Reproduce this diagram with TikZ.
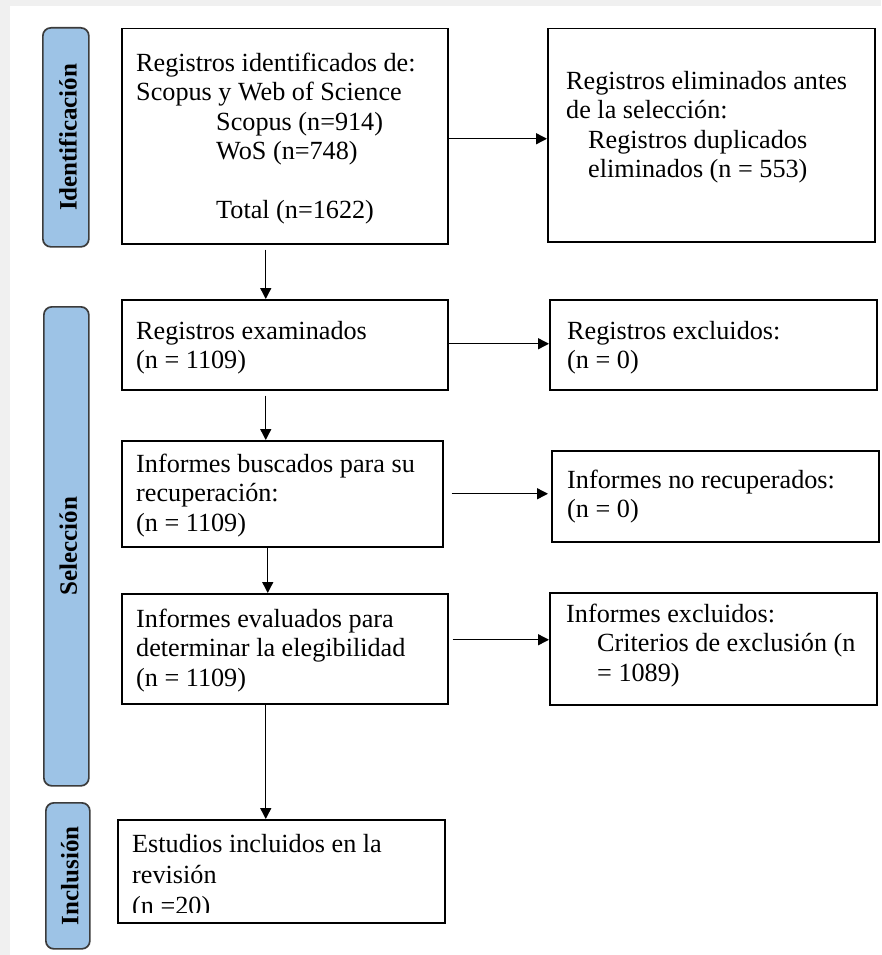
\documentclass[tikz,border=0pt]{standalone}
\usepackage{fontspec}
\setmainfont{Liberation Serif}
\usetikzlibrary{arrows.meta}
\definecolor{pillblue}{HTML}{9DC3E6}
\definecolor{pillline}{HTML}{3B3B3B}
\definecolor{bggray}{HTML}{F0F0F0}
\newcommand\fs{\rule{0pt}{20pt}}
\begin{document}
\begin{tikzpicture}[x=1pt,y=-1pt,
  box/.style={draw=black, line width=1.5pt, fill=white, inner sep=0pt, anchor=north west},
  txt/.style={inner sep=0pt, anchor=north west, align=left, font=\fontsize{26.2}{29.5}\selectfont},
  pill/.style={draw=pillline, line width=1.7pt, fill=pillblue, rounded corners=8pt, inner sep=0pt, anchor=north west},
  side/.style={rotate=90, font=\fontsize{25}{30}\selectfont\bfseries, inner sep=0pt},
  arr/.style={-{Triangle[length=11pt,width=11pt]}, line width=1.4pt}]
\useasboundingbox (0,0) rectangle (881,955);
\fill[bggray] (0,0) rectangle (881,955);
\fill[white] (10,6) rectangle (881,955);

% side pills
\node[pill, minimum width=46pt, minimum height=219pt] (p1) at (42,27) {};
\node[pill, minimum width=45pt, minimum height=479pt] (p2) at (43,306) {};
\node[pill, minimum width=44pt, minimum height=146pt] (p3) at (45,802) {};
\node[side] (l1) at ([xshift=2pt]p1.center) {Identificación};
\node[side] (l2) at ([xshift=2pt]p2.center) {Selección};
\node[side] (l3) at ([xshift=2pt]p3.center) {Inclusión};

% boxes
\node[box, minimum width=326pt, minimum height=215pt] (b1) at (121,28) {};
\node[box, minimum width=327pt, minimum height=213pt] (r1) at (547,28) {};
\node[box, minimum width=326pt, minimum height=90pt] (b2) at (121,299) {};
\node[box, minimum width=327pt, minimum height=90pt] (r2) at (549,299) {};
\node[box, minimum width=321pt, minimum height=106pt] (b3) at (121,440) {};
\node[box, minimum width=327pt, minimum height=91pt] (r3) at (551,450) {};
\node[box, minimum width=326pt, minimum height=110pt] (b4) at (121,593) {};
\node[box, minimum width=327pt, minimum height=112pt] (r4) at (549,592) {};
\node[box, minimum width=327pt, minimum height=103pt] (b5) at (117,819) {};

% texts
\node[txt] (t1) at (136,51) {\fs Registros identificados de:\\Scopus y Web of Science\\\hspace*{80pt}Scopus (n=914)\\\hspace*{80pt}WoS (n=748)\\\mbox{}\\\hspace*{80pt}Total (n=1622)};
\node[txt] (tr1) at (566,69) {\fs Registros eliminados antes\\de la selección:\\\hspace*{22pt}Registros duplicados\\\hspace*{22pt}eliminados (n = 553)};
\node[txt] (t2) at (136,319) {\fs Registros examinados\\(n = 1109)};
\node[txt] (tr2) at (567,319) {\fs Registros excluidos:\\(n = 0)};
\node[txt] (t3) at (136,452) {\fs Informes buscados para su\\recuperación:\\(n = 1109)};
\node[txt] (tr3) at (567,468) {\fs Informes no recuperados:\\(n = 0)};
\node[txt] (t4) at (136,607) {\fs Informes evaluados para\\determinar la elegibilidad\\(n = 1109)};
\node[txt] (tr4) at (566,602) {\fs Informes excluidos:\\\hspace*{31pt}Criterios de exclusión (n\\\hspace*{31pt}= 1089)};
\begin{scope}
\clip (117,819) rectangle (444,912);
\node[txt, font=\fontsize{26.2}{31}\selectfont] (t5) at (132,832) {\fs Estudios incluidos en la\\revisión\\(n =20)};
\end{scope}

% horizontal arrows
\draw[arr] ([yshift=-2.5pt]b1.east) -- ([yshift=-2.5pt]b1.east -| r1.west);
\draw[arr] ([yshift=1pt]b2.east) -- ([yshift=1pt]b2.east -| r2.west);
\draw[arr, shorten >=3pt] ([xshift=8pt]b3.east) -- (b3.east -| r3.west);
\draw[arr] ([xshift=4pt,yshift=9pt]b4.east) -- ([yshift=9pt]b4.east -| r4.west);

% vertical arrows
\draw[arr] ([xshift=-19pt,yshift=-5pt]b1.south) -- ([xshift=-19pt]b1.south |- b2.north);
\draw[arr] ([xshift=-19pt,yshift=-5pt]b2.south) -- ([xshift=-19pt]b2.south |- b3.north);
\draw[arr] ([xshift=-14.5pt]b3.south) -- ([xshift=-14.5pt]b3.south |- b4.north);
\draw[arr] ([xshift=-19pt]b4.south) -- ([xshift=-19pt]b4.south |- b5.north);
\end{tikzpicture}
\end{document}
